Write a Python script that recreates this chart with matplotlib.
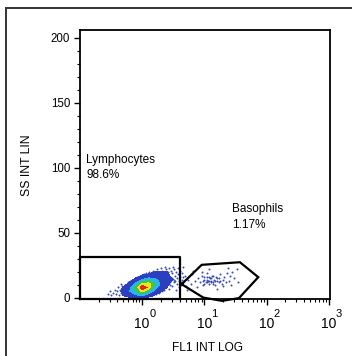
import numpy as np
import matplotlib
matplotlib.use("Agg")
import matplotlib.pyplot as plt
from matplotlib.lines import Line2D

plt.rcParams['font.family'] = ['Liberation Sans', 'DejaVu Sans']

# ---- data ----
# density grid (log10 FL1 centres x SS centres), levels 0..5
grid_logx = [-0.6, -0.5, -0.4, -0.3, -0.2, -0.1, 0.0, 0.1, 0.2, 0.3, 0.4, 0.5, 0.6]
grid_y = [-1, 2, 5, 8, 11, 14, 17, 20, 23]
grid_level = [
    [0, 0, 0, 0, 0, 0, 0, 0, 0, 0, 0, 0, 0],
    [0, 0, 0, 0.6, 1.0, 1.4, 1.6, 1.0, 0.5, 0, 0, 0, 0],
    [0, 0, 0, 0.9, 1.5, 2.6, 3.8, 2.4, 1.2, 0.6, 0, 0, 0],
    [0, 0, 0, 0.6, 1.3, 2.8, 5.5, 4.2, 1.9, 1.0, 0.5, 0, 0],
    [0, 0, 0, 0, 0.8, 1.7, 3.6, 3.8, 2.6, 1.3, 0.8, 0, 0],
    [0, 0, 0, 0, 0, 0.9, 1.5, 2.0, 1.7, 1.2, 0.9, 0.5, 0],
    [0, 0, 0, 0, 0, 0, 0.6, 0.9, 1.0, 1.0, 0.8, 0, 0],
    [0, 0, 0, 0, 0, 0, 0, 0, 0.5, 0.6, 0.5, 0, 0],
    [0, 0, 0, 0, 0, 0, 0, 0, 0, 0, 0, 0, 0],
]
density_colors = ['#2c3fc0', '#27b6e6', '#3fc54a', '#f2e51e', '#e8261f']

halo_x = [0.28, 0.30, 0.32, 0.34, 0.36, 0.38, 0.40, 0.41, 0.43, 0.44, 0.46, 0.47, 0.49, 0.50,
          0.52, 0.53, 0.55, 0.57, 0.58, 0.60, 0.62, 0.64, 0.66, 0.68, 0.70, 0.73, 0.76, 0.80,
          0.83, 0.86, 0.90, 0.95, 1.0, 1.05, 1.1, 1.15, 1.2, 1.25, 1.3, 1.4, 1.45, 1.5, 1.6,
          1.65, 1.7, 1.8, 1.85, 1.9, 2.0, 2.05, 2.1, 2.2, 2.25, 2.3, 2.4, 2.45, 2.5, 2.6, 2.65,
          2.7, 2.8, 2.85, 2.9, 3.0, 3.05, 3.1, 3.2, 3.25, 3.3, 3.4, 3.45, 3.5, 3.6, 3.65, 3.7,
          3.8, 3.85, 3.9, 4.0, 4.1, 4.2, 4.3, 4.4, 4.5, 4.6, 4.8, 2.2, 2.6, 3.0, 1.8, 2.4, 2.8,
          3.4, 1.6, 0.45, 0.6]
halo_y = [3, 5, 2, 4, 6, 3, 5, 8, 2, 6, 4, 9, 7, 3,
          10, 5, 8, 11, 2, 12, 9, 13, 1.5, 11, 14, 12, 15, 13,
          16, 1, 15, 17, 14, 18, 16, 19, 1.5, 17, 20, 18, 2, 21, 19,
          3, 22, 20, 4, 17, 23, 5, 21, 19, 6, 24, 22, 8, 18, 20, 7,
          23, 16, 10, 21, 19, 9, 24, 14, 12, 22, 17, 6, 20, 11, 15, 23,
          18, 8, 13, 21, 16, 10, 19, 14, 24, 12, 17, 13, 14, 15, 14, 11, 12,
          13, 15, 11, 6]

baso_x = [4.2, 4.5, 5.0, 5.5, 6.0, 6.3, 7.0, 7.5, 8.0, 8.5, 9.0, 9.5, 10, 10.5, 11, 11.5,
          12, 12.5, 13, 13.5, 14, 14.5, 15, 15.5, 16, 17, 17.5, 18, 19, 20, 21, 22, 23,
          25, 26, 28, 30, 33, 35, 6.5, 9, 12, 16, 20, 24, 5.2, 27, 11,
          9.5, 10, 11, 12, 13, 14, 15, 12, 14, 16, 18, 10, 11, 13]
baso_y = [12, 16, 9, 14, 11, 18, 13, 8, 15, 12, 17, 10, 14, 12, 16, 13,
          11, 15, 13, 17, 12, 14, 10, 16, 13, 12, 15, 18, 11, 14, 16, 12, 19,
          13, 17, 20, 15, 22, 12, 21, 20, 22, 7, 9, 23, 6, 10, 19,
          13, 11, 14, 13, 15, 11, 13, 16, 17, 15, 13, 16, 12, 12]

lymph_gate_x = [0.1, 4.1, 4.1, 0.1, 0.1]
lymph_gate_y = [-0.5, -0.5, 31.7, 31.7, -0.5]
baso_gate_x = [4.31, 9.06, 37.3, 73.5, 36.0, 19.2, 9.6, 4.31]
baso_gate_y = [10.5, 25.4, 27.4, 15.9, -0.2, -2.3, 0.2, 10.5]

y_ticks = [0, 50, 100, 150, 200]
x_ticks = [1, 10, 100, 1000]
x_tick_exps = ['0', '1', '2', '3']

# ---- figure ----
W, H = 352, 356
fig = plt.figure(figsize=(W / 100, H / 100), dpi=100)
fig.add_artist(Line2D([6/W, 6/W], [0, 1 - 8/H], transform=fig.transFigure,
                      color='#333333', lw=1.4))
fig.add_artist(Line2D([6/W, 1], [1 - 8/H, 1 - 8/H], transform=fig.transFigure,
                      color='#333333', lw=1.4))

ax = fig.add_axes([80/W, 1 - 298.5/H, 250/W, 268.5/H])
ax.set_xscale('log')
ax.set_xlim(0.1, 10**3.02)
ax.set_ylim(-0.5, 206)

GX, GY = np.meshgrid(10 ** np.array(grid_logx), np.array(grid_y))
Z = np.array(grid_level)
ax.contourf(GX, GY, Z, levels=[0.5, 1.5, 2.5, 3.5, 4.5, 7], colors=density_colors, zorder=2)

ax.scatter(halo_x, halo_y, s=2.0, color='#3447bf', linewidths=0, zorder=1)
ax.scatter(baso_x, baso_y, s=2.0, color='#3447bf', linewidths=0, zorder=1)

ax.plot(lymph_gate_x, lymph_gate_y, color='black', lw=1.6, clip_on=False, zorder=3)
ax.plot(baso_gate_x, baso_gate_y, color='black', lw=1.6, clip_on=False, zorder=3,
        solid_joinstyle='miter')

ax.text(0.125, 111, 'Lymphocytes\n98.6%', fontsize=8.5, ha='left', va='top', linespacing=1.4)
ax.text(27.5, 73, 'Basophils\n1.17%', fontsize=8.5, ha='left', va='top', linespacing=1.4)

ax.set_yticks(y_ticks)
ax.set_yticks(np.arange(0, 206, 10), minor=True)
ax.set_xticks(x_ticks)
ax.set_xticklabels([])
ax.tick_params(axis='both', which='major', labelsize=8.3, length=4, width=1, direction='out', pad=3)
ax.tick_params(axis='both', which='minor', length=2.5, width=0.8, direction='out')
ax.tick_params(axis='x', which='minor', labelbottom=False)
for sp in ax.spines.values():
    sp.set_linewidth(1.3)

# x tick labels as 10 with large superscript
for t, e in zip(x_ticks, x_tick_exps):
    ax.annotate('10', xy=(t, 0), xycoords=('data', 'axes fraction'),
                xytext=(5.5, -13.0), textcoords='offset points',
                ha='right', va='top', fontsize=10, annotation_clip=False)
    ax.annotate(e, xy=(t, 0), xycoords=('data', 'axes fraction'),
                xytext=(5.0, -7.8), textcoords='offset points',
                ha='left', va='top', fontsize=8, annotation_clip=False)

fig.text(208/W, 1 - 348/H, 'FL1 INT LOG', fontsize=8.6, ha='center', va='center')
fig.text(27/W, 1 - 165/H, 'SS INT LIN', fontsize=8.8, ha='center', va='center', rotation=90)

fig.savefig('out.png', dpi=100)
